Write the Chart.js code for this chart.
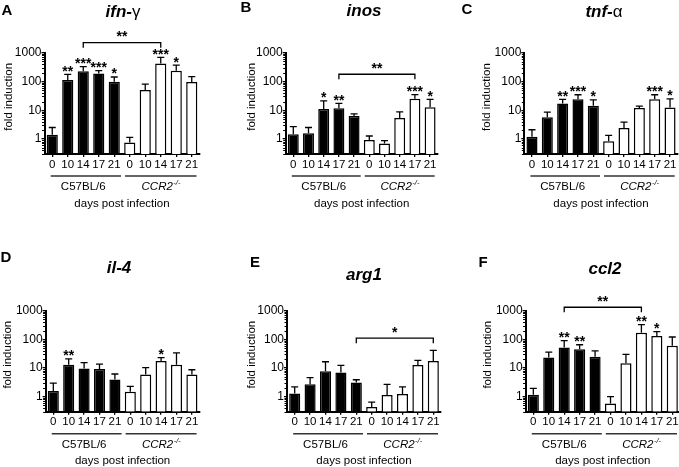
<!DOCTYPE html>
<html>
<head>
<meta charset="utf-8">
<script src="https://cdn.jsdelivr.net/npm/chart.js@4.4.1/dist/chart.umd.min.js"></script>
<style>
  html, body { margin: 0; padding: 0; background: #fff; overflow: hidden; width: 679px; height: 467px; }
  canvas { position: absolute; }
</style>
</head>
<body>
<script>
// x categories: days post infection, first five C57BL/6, last five CCR2-/-
const days = ["0", "10", "14", "17", "21", "0", "10", "14", "17", "21"];
const yTicks = [1, 10, 100, 1000];

// mean fold induction and top of the error bar (mean + SD)
const ifnMean = [1.4, 112, 225, 190, 98, 0.75, 50, 425, 237, 96];
const ifnErr = [2.5, 177, 327, 237, 143, 1.14, 81, 690, 372, 147];
const ifnStars = ["", "**", "***", "***", "*", "", "", "***", "*", ""];

const inosMean = [1.45, 1.57, 11, 11.6, 6.3, 0.92, 0.7, 5.4, 25, 12.6];
const inosErr = [2.7, 2.5, 21, 17.4, 7.4, 1.27, 0.87, 8.7, 35, 24];
const inosStars = ["", "", "*", "**", "", "", "", "", "***", "*"];

const tnfMean = [1.2, 5.7, 17.4, 24.5, 14.4, 0.83, 2.4, 12, 24.5, 12.6];
const tnfErr = [2.1, 8.7, 24, 35, 23, 1.34, 3.9, 14, 35, 25];
const tnfStars = ["", "", "**", "***", "*", "", "", "", "***", "*"];

const il4Mean = [1.58, 13, 9.7, 9.2, 4.0, 1.5, 6.0, 17.5, 13, 6];
const il4Err = [3.0, 21, 15.4, 13.8, 6.2, 2.3, 10.3, 23, 34, 8.7];
const il4Stars = ["", "**", "", "", "", "", "", "*", "", ""];

const argMean = [1.3, 2.7, 7.7, 7.0, 3.1, 0.44, 1.14, 1.24, 12.7, 17.5];
const argErr = [2.2, 4.6, 16.6, 12.4, 3.9, 0.65, 2.7, 2.2, 18.5, 41];
const argStars = ["", "", "", "", "", "", "", "", "", ""];

const cclMean = [1.17, 23.5, 52.5, 45, 24.8, 0.58, 14.6, 170, 130, 60];
const cclErr = [1.95, 36, 90, 65, 40, 1.0, 30, 325, 186, 121];
const cclStars = ["", "", "**", "**", "", "", "", "**", "*", ""];

// comparison brackets: [from index, to index, level (fold induction), label]
const ifnBracket = [2, 7, 2230, "**"];
const inosBracket = [3, 8, 178, "**"];
const argBracket = [4, 9, 110, "*"];
const cclBracket = [2, 7, 1320, "**"];

const FONT = '"Liberation Sans", Arial, Helvetica, sans-serif';
Chart.defaults.font.family = FONT;
Chart.defaults.color = "#000";

const YW = 30; // fixed y axis width
const XH = 20; // fixed x axis height

function makeDecor(p) {
  return {
    id: "decor",
    afterDraw(chart) {
      const ctx = chart.ctx;
      const { left, right, top, bottom } = chart.chartArea;
      const ys = chart.scales.y;
      const bars = chart.getDatasetMeta(0).data;
      const px = (v) => v - p.cx;
      const py = (v) => v - p.cy;
      ctx.save();
      ctx.strokeStyle = "#000";
      ctx.fillStyle = "#000";

      // minor ticks on the log axis
      ctx.lineWidth = 1;
      [0.1, 1, 10, 100].forEach((k) => {
        for (let m = 2; m <= 9; m++) {
          const v = m * k;
          if (v < ys.min || v > ys.max) continue;
          const y = Math.round(ys.getPixelForValue(v)) + 0.5;
          ctx.beginPath();
          ctx.moveTo(left - 2.5, y);
          ctx.lineTo(left, y);
          ctx.stroke();
        }
      });

      // error bars (upper only) and stars
      ctx.lineWidth = 1.3;
      bars.forEach((b, i) => {
        const y0 = ys.getPixelForValue(p.mean[i]);
        const y1 = ys.getPixelForValue(p.err[i]);
        ctx.beginPath();
        ctx.moveTo(b.x, y0);
        ctx.lineTo(b.x, y1);
        ctx.moveTo(b.x - 3.5, y1);
        ctx.lineTo(b.x + 3.5, y1);
        ctx.stroke();
        if (p.stars[i]) {
          ctx.font = "bold 14px " + FONT;
          ctx.textAlign = "center";
          ctx.textBaseline = "alphabetic";
          ctx.fillText(p.stars[i], b.x, y1 + 1.5);
        }
      });

      // bracket
      if (p.bracket) {
        const [a, z, level, label] = p.bracket;
        const y = ys.getPixelForValue(level);
        const xa = bars[a].x, xz = bars[z].x;
        ctx.lineWidth = 1.3;
        ctx.beginPath();
        ctx.moveTo(xa, y + 5);
        ctx.lineTo(xa, y);
        ctx.lineTo(xz, y);
        ctx.lineTo(xz, y + 5);
        ctx.stroke();
        ctx.font = "bold 14px " + FONT;
        ctx.textAlign = "center";
        ctx.textBaseline = "alphabetic";
        ctx.fillText(label, (xa + xz) / 2, y - 1.5);
      }

      // group underlines and labels
      const mid = (bars[4].x + bars[5].x) / 2;
      const cat = bars[1].x - bars[0].x;
      const ly = bottom + 22;
      ctx.strokeStyle = "#333";
      ctx.lineWidth = 1.5;
      ctx.beginPath();
      ctx.moveTo(left + 0.4 * cat, ly);
      ctx.lineTo(mid - 1, ly);
      ctx.moveTo(mid + 3, ly);
      ctx.lineTo(right - 3, ly);
      ctx.stroke();

      ctx.textBaseline = "middle";
      ctx.textAlign = "center";
      ctx.font = "11.5px " + FONT;
      ctx.fillText("C57BL/6", bars[2].x, bottom + 33);

      ctx.font = "italic 11.5px " + FONT;
      const w1 = ctx.measureText("CCR2").width;
      ctx.font = "italic 7.5px " + FONT;
      const w2 = ctx.measureText("-/-").width;
      const sx = bars[7].x - (w1 + w2) / 2;
      ctx.textAlign = "left";
      ctx.font = "italic 11.5px " + FONT;
      ctx.fillText("CCR2", sx, bottom + 33);
      ctx.font = "italic 7.5px " + FONT;
      ctx.fillText("-/-", sx + w1 + 0.5, bottom + 29);

      ctx.textAlign = "center";
      ctx.font = "11.5px " + FONT;
      ctx.fillText("days post infection", (left + right) / 2, bottom + 49.5);

      // y axis title
      const yc = (top + ys.getPixelForValue(1)) / 2 + 1;
      ctx.save();
      ctx.translate(px(p.ytx), yc);
      ctx.rotate(-Math.PI / 2);
      ctx.font = "11.5px " + FONT;
      ctx.fillText("fold induction", 0, 0);
      ctx.restore();

      // panel letter
      ctx.textBaseline = "alphabetic";
      ctx.textAlign = "center";
      ctx.font = "bold 15px " + FONT;
      ctx.fillText(p.letter[0], px(p.letter[1]), py(p.letter[2]));

      // gene title (mixed fonts)
      let total = 0;
      p.title.forEach(([t, f]) => {
        ctx.font = f + " " + FONT;
        total += ctx.measureText(t).width;
      });
      let tx = px(p.tx) - total / 2;
      ctx.textAlign = "left";
      p.title.forEach(([t, f]) => {
        ctx.font = f + " " + FONT;
        ctx.fillText(t, tx, py(p.ty));
        tx += ctx.measureText(t).width;
      });
      ctx.restore();
    },
  };
}

function panel(p) {
  const c = document.createElement("canvas");
  c.width = p.w;
  c.height = p.h;
  c.style.left = p.cx + "px";
  c.style.top = p.cy + "px";
  document.body.appendChild(c);

  new Chart(c, {
    type: "bar",
    data: {
      labels: days,
      datasets: [
        {
          data: p.mean,
          backgroundColor: days.map((d, i) => (i < 5 ? "#000" : "#fff")),
          borderColor: "#000",
          borderWidth: 1.5,
          barPercentage: 0.72,
          categoryPercentage: 1,
        },
      ],
    },
    options: {
      responsive: false,
      animation: false,
      events: [],
      layout: {
        padding: {
          left: p.L - p.cx - YW,
          top: p.T - p.cy,
          right: p.cx + p.w - p.R,
          bottom: p.cy + p.h - p.B - XH,
        },
      },
      plugins: { legend: { display: false }, tooltip: { enabled: false } },
      scales: {
        x: {
          afterFit: (s) => { s.height = XH; },
          grid: { offset: false, drawOnChartArea: false, tickLength: 3, color: "#000", lineWidth: 1.3 },
          border: { color: "#000", width: 2 },
          ticks: { color: "#000", font: { size: 11.5 }, padding: 0.5, maxRotation: 0, autoSkip: false },
        },
        y: {
          type: "logarithmic",
          min: 0.3,
          max: 1000,
          afterFit: (s) => { s.width = YW; },
          afterBuildTicks: (s) => { s.ticks = yTicks.map((v) => ({ value: v })); },
          grid: { drawOnChartArea: false, tickLength: 3, color: "#000", lineWidth: 1.3 },
          border: { color: "#000", width: 2 },
          ticks: { color: "#000", font: { size: 12 }, padding: 0, callback: (v) => String(v) },
        },
      },
    },
    plugins: [makeDecor(p)],
  });
}

panel({ cx: 0, cy: 0, w: 226, h: 225, L: 44.5, R: 199.5, T: 52.7, B: 154,
  mean: ifnMean, err: ifnErr, stars: ifnStars, bracket: ifnBracket,
  ytx: 9, letter: ["A", 7, 15], tx: 123, ty: 17,
  title: [["ifn-", "italic bold 17px"], ["\u03b3", "17px"]] });

panel({ cx: 226, cy: 0, w: 226, h: 225, L: 285.7, R: 437.7, T: 52.7, B: 154,
  mean: inosMean, err: inosErr, stars: inosStars, bracket: inosBracket,
  ytx: 252, letter: ["B", 246, 12], tx: 364, ty: 16,
  title: [["inos", "italic bold 17px"]] });

panel({ cx: 452, cy: 0, w: 232, h: 225, L: 524.3, R: 677.7, T: 53, B: 154,
  mean: tnfMean, err: tnfErr, stars: tnfStars, bracket: null,
  ytx: 487, letter: ["C", 467, 13.5], tx: 604, ty: 17,
  title: [["tnf-", "italic bold 17px"], ["\u03b1", "17px"]] });

panel({ cx: 0, cy: 225, w: 226, h: 242, L: 45.6, R: 199.6, T: 310.7, B: 411.7,
  mean: il4Mean, err: il4Err, stars: il4Stars, bracket: null,
  ytx: 8, letter: ["D", 6, 262], tx: 119, ty: 273,
  title: [["il-4", "italic bold 17px"]] });

panel({ cx: 226, cy: 225, w: 226, h: 242, L: 287, R: 441, T: 310.7, B: 411.7,
  mean: argMean, err: argErr, stars: argStars, bracket: argBracket,
  ytx: 252, letter: ["E", 255, 267], tx: 364, ty: 280,
  title: [["arg1", "italic bold 17px"]] });

panel({ cx: 452, cy: 225, w: 232, h: 242, L: 525.6, R: 680, T: 310.7, B: 411.7,
  mean: cclMean, err: cclErr, stars: cclStars, bracket: cclBracket,
  ytx: 488, letter: ["F", 483, 267], tx: 605, ty: 274,
  title: [["ccl2", "italic bold 17px"]] });
</script>
</body>
</html>
